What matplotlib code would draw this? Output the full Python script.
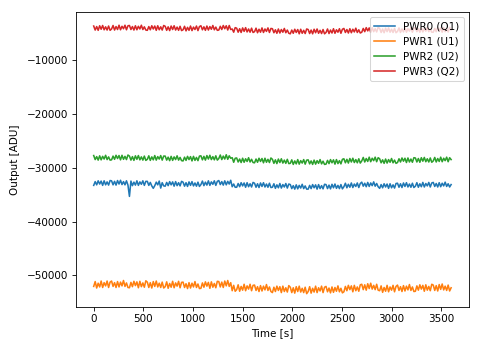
import numpy as np
import matplotlib
matplotlib.use("Agg")
import matplotlib.pyplot as plt

# one reading every 15 s over the hour
time = np.linspace(0, 3600, 241)

pwr0 = [-33250, -32550, -33150, -32400, -33000, -32450, -33250, -32400, -33150, -32600, -33200, -32350,
        -32400, -33150, -32500, -33200, -32350, -33000, -32300, -33100, -32550, -33150, -32400, -33200,
        -35300, -32450, -33300, -32650, -33200, -32400, -33250, -32600, -33050, -32400, -33250, -32500,
        -32500, -33250, -32700, -33350, -33800, -33300, -32650, -33150, -32450, -33750, -32750, -33350,
        -33400, -32700, -33300, -32550, -33150, -32600, -33400, -32550, -33300, -32750, -33350, -32500,
        -32650, -33400, -32750, -33450, -32600, -33250, -32550, -33350, -32800, -33400, -32650, -33450,
        -33100, -32450, -33300, -32650, -33200, -32400, -33250, -32600, -33050, -32400, -33250, -32500,
        -32350, -33100, -32550, -33200, -32400, -33150, -32500, -33000, -32300, -33500, -33000, -33600,
        -33600, -32900, -33500, -32750, -33350, -32800, -33600, -32750, -33500, -32950, -33550, -32700,
        -32850, -33600, -32950, -33650, -32800, -33450, -32750, -33550, -33000, -33600, -32850, -33650,
        -33600, -32950, -33800, -33150, -33700, -32900, -33750, -33100, -33550, -32900, -33750, -33000,
        -33100, -33850, -33300, -33950, -33150, -33900, -33250, -33750, -33050, -33850, -33350, -33950,
        -33950, -33250, -33850, -33100, -33700, -33150, -33950, -33100, -33850, -33300, -33900, -33050,
        -33100, -33850, -33200, -33900, -33050, -33700, -33000, -33800, -33250, -33850, -33100, -33900,
        -33500, -32850, -33700, -33050, -33600, -32800, -33650, -33000, -33450, -32800, -33650, -32900,
        -32650, -33400, -32850, -33500, -32700, -33450, -32800, -33300, -32600, -33400, -32900, -33500,
        -33800, -33100, -33700, -32950, -33550, -33000, -33800, -32950, -33700, -33150, -33750, -32900,
        -32850, -33600, -32950, -33650, -32800, -33450, -32750, -33550, -33000, -33600, -32850, -33650,
        -33400, -32750, -33600, -32950, -33500, -32700, -33550, -32900, -33350, -32700, -33550, -32800,
        -32700, -33450, -32900, -33550, -32750, -33500, -32850, -33350, -32650, -33450, -32950, -33550,
        -33100]

pwr1 = [-52050, -51150, -52350, -51450, -52150, -51050, -52250, -51350, -51950, -51050, -52250, -51250,
        -51050, -52050, -51350, -52250, -51150, -52150, -51250, -51950, -50950, -52050, -51400, -52250,
        -52300, -51300, -52100, -51100, -51900, -51200, -52300, -51100, -52100, -51400, -52200, -51000,
        -51250, -52250, -51350, -52350, -51150, -52050, -51050, -52150, -51450, -52250, -51250, -52350,
        -52100, -51200, -52400, -51500, -52200, -51100, -52300, -51400, -52000, -51100, -52300, -51300,
        -51250, -52250, -51550, -52450, -51350, -52350, -51450, -52150, -51150, -52250, -51600, -52450,
        -52400, -51400, -52200, -51200, -52000, -51300, -52400, -51200, -52200, -51500, -52300, -51100,
        -51150, -52150, -51250, -52250, -51050, -51950, -50950, -52050, -51350, -52850, -51850, -52950,
        -52650, -51750, -52950, -52050, -52750, -51650, -52850, -51950, -52550, -51650, -52850, -51850,
        -51800, -52800, -52100, -53000, -51900, -52900, -52000, -52700, -51700, -52800, -52150, -53000,
        -53200, -52200, -53000, -52000, -52800, -52100, -53200, -52000, -53000, -52300, -53100, -51900,
        -52200, -53200, -52300, -53300, -52100, -53000, -52000, -53100, -52400, -53200, -52200, -53400,
        -53000, -52100, -53300, -52400, -53100, -52000, -53200, -52300, -52900, -52000, -53200, -52200,
        -52050, -53050, -52350, -53250, -52150, -53150, -52250, -52950, -51950, -53050, -52400, -53250,
        -53050, -52050, -52850, -51850, -52650, -51950, -53050, -51850, -52850, -52150, -52950, -51750,
        -51650, -52650, -51750, -52750, -51550, -52450, -51450, -52550, -51850, -52650, -51650, -52750,
        -52850, -51950, -53150, -52250, -52950, -51850, -53050, -52150, -52750, -51850, -53050, -52050,
        -51800, -52800, -52100, -53000, -51900, -52900, -52000, -52700, -51700, -52800, -52150, -53000,
        -52950, -51950, -52750, -51750, -52550, -51850, -52950, -51750, -52750, -52050, -52850, -51650,
        -51800, -52800, -51900, -52900, -51700, -52600, -51600, -52700, -52000, -52800, -51800, -52900,
        -52300]

pwr2 = [-27700, -28450, -27900, -28550, -27750, -28500, -27850, -28350, -27650, -28450, -27950, -28550,
        -28500, -27800, -28400, -27650, -28250, -27700, -28500, -27650, -28400, -27850, -28450, -27600,
        -27800, -28550, -27900, -28600, -27750, -28400, -27700, -28500, -27950, -28550, -27800, -28600,
        -28400, -27750, -28600, -27950, -28500, -27700, -28550, -27900, -28350, -27700, -28550, -27800,
        -27800, -28550, -28000, -28650, -27850, -28600, -27950, -28450, -27750, -28550, -28050, -28650,
        -28700, -28000, -28600, -27850, -28450, -27900, -28700, -27850, -28600, -28050, -28650, -27800,
        -27750, -28500, -27850, -28550, -27700, -28350, -27650, -28450, -27900, -28500, -27750, -28550,
        -28250, -27600, -28450, -27800, -28350, -27550, -28400, -27750, -28200, -28100, -28950, -28200,
        -28150, -28900, -28350, -29000, -28200, -28950, -28300, -28800, -28100, -28900, -28400, -29000,
        -29050, -28350, -28950, -28200, -28800, -28250, -29050, -28200, -28950, -28400, -29000, -28150,
        -28400, -29150, -28500, -29200, -28350, -29000, -28300, -29100, -28550, -29150, -28400, -29200,
        -29150, -28500, -29350, -28700, -29250, -28450, -29300, -28650, -29100, -28450, -29300, -28550,
        -28500, -29250, -28700, -29350, -28550, -29300, -28650, -29150, -28450, -29250, -28750, -29350,
        -29300, -28600, -29200, -28450, -29050, -28500, -29300, -28450, -29200, -28650, -29250, -28400,
        -28300, -29050, -28400, -29100, -28250, -28900, -28200, -29000, -28450, -29050, -28300, -29100,
        -28700, -28050, -28900, -28250, -28800, -28000, -28850, -28200, -28650, -28000, -28850, -28100,
        -28300, -29050, -28500, -29150, -28350, -29100, -28450, -28950, -28250, -29050, -28550, -29150,
        -29000, -28300, -28900, -28150, -28750, -28200, -29000, -28150, -28900, -28350, -28950, -28100,
        -28150, -28900, -28250, -28950, -28100, -28750, -28050, -28850, -28300, -28900, -28150, -28950,
        -28700, -28050, -28900, -28250, -28800, -28000, -28850, -28200, -28650, -28000, -28850, -28100,
        -28450]

pwr3 = [-3600, -4350, -3700, -4400, -3550, -4200, -3500, -4300, -3750, -4350, -3600, -4400,
        -4150, -3500, -4350, -3700, -4250, -3450, -4300, -3650, -4100, -3450, -4300, -3550,
        -3500, -4250, -3700, -4350, -3550, -4300, -3650, -4150, -3450, -4250, -3750, -4350,
        -4400, -3700, -4300, -3550, -4150, -3600, -4400, -3550, -4300, -3750, -4350, -3500,
        -3650, -4400, -3750, -4450, -3600, -4250, -3550, -4350, -3800, -4400, -3650, -4450,
        -4300, -3650, -4500, -3850, -4400, -3600, -4450, -3800, -4250, -3600, -4450, -3700,
        -3550, -4300, -3750, -4400, -3600, -4350, -3700, -4200, -3500, -4300, -3800, -4400,
        -4350, -3650, -4250, -3500, -4100, -3550, -4350, -3500, -4250, -4150, -4750, -3900,
        -4000, -4750, -4100, -4800, -3950, -4600, -3900, -4700, -4150, -4750, -4000, -4800,
        -4650, -4000, -4850, -4200, -4750, -3950, -4800, -4150, -4600, -3950, -4800, -4050,
        -4100, -4850, -4300, -4950, -4150, -4900, -4250, -4750, -4050, -4850, -4350, -4950,
        -5050, -4350, -4950, -4200, -4800, -4250, -5050, -4200, -4950, -4400, -5000, -4150,
        -4250, -5000, -4350, -5050, -4200, -4850, -4150, -4950, -4400, -5000, -4250, -5050,
        -4800, -4150, -5000, -4350, -4900, -4100, -4950, -4300, -4750, -4100, -4950, -4200,
        -4050, -4800, -4250, -4900, -4100, -4850, -4200, -4700, -4000, -4800, -4300, -4900,
        -4750, -4050, -4650, -3900, -4500, -3950, -4750, -3900, -4650, -4100, -4700, -3850,
        -4050, -4800, -4150, -4850, -4000, -4650, -3950, -4750, -4200, -4800, -4050, -4850,
        -4600, -3950, -4800, -4150, -4700, -3900, -4750, -4100, -4550, -3900, -4750, -4000,
        -3900, -4650, -4100, -4750, -3950, -4700, -4050, -4550, -3850, -4650, -4150, -4750,
        -4750, -4050, -4650, -3900, -4500, -3950, -4750, -3900, -4650, -4100, -4700, -3850,
        -4300]

labels = ["PWR0 (Q1)", "PWR1 (U1)", "PWR2 (U2)", "PWR3 (Q2)"]

fig = plt.figure(figsize=(483 / 75, 347 / 75), dpi=75)
ax = fig.add_subplot(111)
fig.subplots_adjust(left=0.157, right=0.971, top=0.966, bottom=0.115)

for series, label in zip([pwr0, pwr1, pwr2, pwr3], labels):
    ax.plot(time, series, label=label)

ax.set_xlabel("Time [s]")
ax.set_ylabel("Output [ADU]", labelpad=7)
ax.legend(loc="upper right")

fig.savefig("out.png", dpi=75)
